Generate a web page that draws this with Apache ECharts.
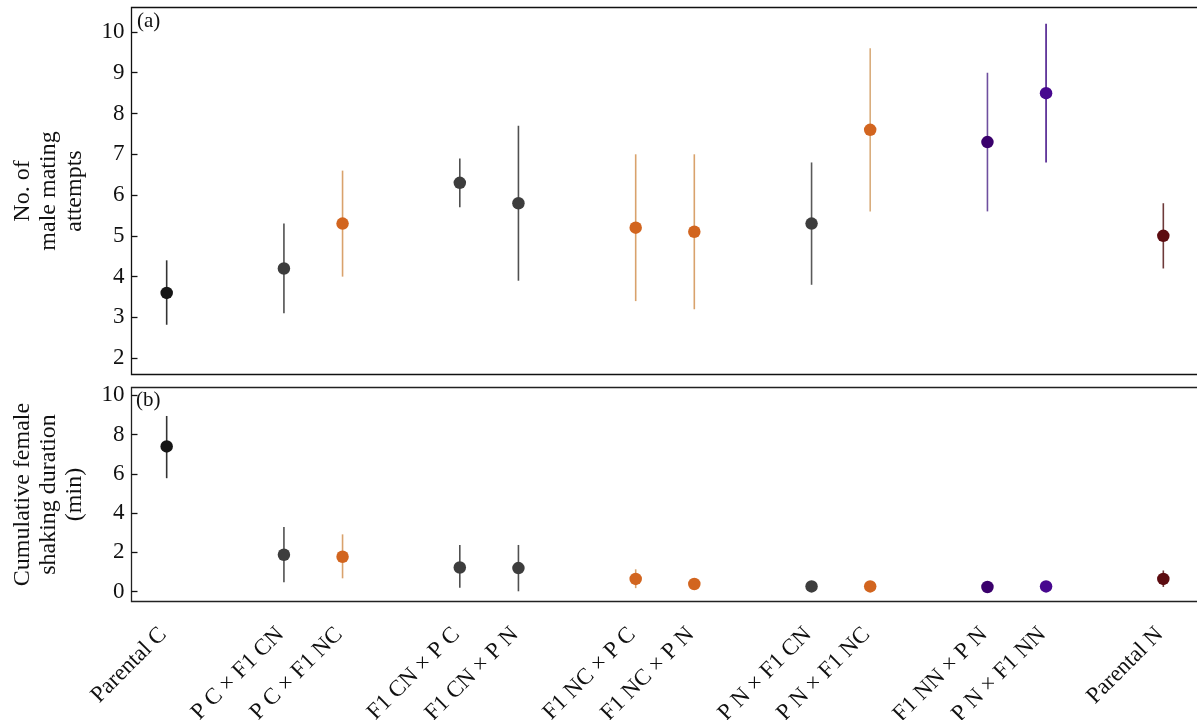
<!DOCTYPE html>
<html>
<head>
<meta charset="utf-8">
<script src="https://cdn.jsdelivr.net/npm/echarts@6/dist/echarts.min.js"></script>
<style>
html,body{margin:0;padding:0;background:#fff;}
#chart{width:1197px;height:720px;}
</style>
</head>
<body>
<div id="chart"></div>
<script>
// ---- data ----
const categories = ['Parental C','P C × F1 CN','P C × F1 NC','F1 CN × P C','F1 CN × P N','F1 NC × P C','F1 NC × P N','P N × F1 CN','P N × F1 NC','F1 NN × P N','P N × F1 NN','Parental N'];
const xSlots = [0, 2, 3, 5, 6, 8, 9, 11, 12, 14, 15, 17];
const attemptsMean = [3.6, 4.2, 5.3, 6.3, 5.8, 5.2, 5.1, 5.3, 7.6, 7.3, 8.5, 5.0];
const attemptsLow  = [2.82, 3.1, 4.0, 5.7, 3.9, 3.4, 3.2, 3.8, 5.6, 5.6, 6.8, 4.2];
const attemptsHigh = [4.4, 5.3, 6.6, 6.9, 7.7, 7.0, 7.0, 6.8, 9.6, 9.0, 10.2, 5.8];
const shakeMean = [7.4, 1.88, 1.78, 1.23, 1.2, 0.65, 0.39, 0.27, 0.27, 0.24, 0.27, 0.65];
const shakeLow  = [5.78, 0.48, 0.68, 0.2, 0.02, 0.18, 0.28, 0.2, 0.2, 0.16, 0.2, 0.24];
const shakeHigh = [8.95, 3.3, 2.92, 2.38, 2.38, 1.14, 0.5, 0.34, 0.34, 0.32, 0.34, 1.08];
const attemptTicks = [2, 3, 4, 5, 6, 7, 8, 9, 10];
const shakeTicks = [0, 2, 4, 6, 8, 10];

// ---- styles ----
const dotColors = ['#161616','#3d3d3d','#d2651f','#3d3d3d','#3d3d3d','#d2651f','#d2651f','#3d3d3d','#d2651f','#3a006c','#47088f','#5c0c10'];
const barColors = ['#333333','#505050','#d9a26c','#505050','#505050','#d9a26c','#d9a26c','#5a5a5a','#d9ad7c','#6e4f9f','#4a1a8c','#6e3a3a'];
const FONT = '"Liberation Serif", "Times New Roman", serif';

const chart = echarts.init(document.getElementById('chart'), null, {renderer: 'canvas'});

function barSeries(idx, low, high) {
  return {
    type: 'custom', xAxisIndex: idx, yAxisIndex: idx, z: 2,
    data: xSlots.map((x, i) => [x, low[i], high[i]]),
    encode: {x: 0, y: [1, 2]},
    renderItem: function (params, api) {
      const p1 = api.coord([api.value(0), api.value(1)]);
      const p2 = api.coord([api.value(0), api.value(2)]);
      return {type: 'line', shape: {x1: p1[0], y1: p1[1], x2: p2[0], y2: p2[1]},
              style: {stroke: barColors[params.dataIndex], lineWidth: 1.6}};
    }
  };
}
function dotSeries(idx, mean) {
  return {
    type: 'scatter', xAxisIndex: idx, yAxisIndex: idx, z: 3,
    symbol: 'circle', symbolSize: 12.5,
    data: xSlots.map((x, i) => [x, mean[i]]),
    itemStyle: {color: p => dotColors[p.dataIndex], opacity: 1},
    emphasis: {disabled: true}
  };
}
function xAxisDef(idx, showLabels) {
  return {
    type: 'value', gridIndex: idx, min: -0.6, max: 17.6,
    axisLine: {show: false, onZero: false},
    axisTick: {show: false},
    splitLine: {show: false},
    axisLabel: {
      show: showLabels, customValues: xSlots, rotate: 45, margin: 26, padding: [0, 5, 0, 0],
      fontFamily: FONT, fontSize: 23, color: '#111',
      formatter: v => { const i = xSlots.indexOf(Math.round(v)); return i >= 0 ? categories[i] : ''; }
    }
  };
}
function yAxisDef(idx, min, max, ticks, name) {
  return {
    type: 'value', gridIndex: idx, min: min, max: max,
    axisLine: {show: false, onZero: false},
    axisTick: {show: true, inside: true, length: 6, customValues: ticks, lineStyle: {color: '#111', width: 1.3}},
    splitLine: {show: false},
    axisLabel: {customValues: ticks, margin: 7, fontFamily: FONT, fontSize: 23, color: '#111'},
    name: name, nameLocation: 'middle', nameRotate: 90, nameGap: 44,
    nameTextStyle: {fontFamily: FONT, fontSize: 24, color: '#111', lineHeight: 26, align: 'center'}
  };
}

chart.setOption({
  animation: false,
  backgroundColor: '#fff',
  grid: [
    {left: 131.5, top: 7.5, width: 1067, height: 367, show: true, borderColor: '#111', borderWidth: 1.3, containLabel: false, outerBoundsMode: 'none'},
    {left: 131.5, top: 387.5, width: 1067, height: 214, show: true, borderColor: '#222', borderWidth: 1.3, containLabel: false, outerBoundsMode: 'none'}
  ],
  xAxis: [xAxisDef(0, false), xAxisDef(1, true)],
  yAxis: [
    yAxisDef(0, 1.6, 10.6, attemptTicks, 'No. of\nmale mating\nattempts'),
    yAxisDef(1, -0.5, 10.4, shakeTicks, 'Cumulative female\nshaking duration\n(min)')
  ],
  graphic: [
    {type: 'text', left: 137, top: 11, style: {text: '(a)', font: '21px ' + FONT, fill: '#111'}},
    {type: 'text', left: 136, top: 390, style: {text: '(b)', font: '21px ' + FONT, fill: '#111'}}
  ],
  series: [
    barSeries(0, attemptsLow, attemptsHigh), dotSeries(0, attemptsMean),
    barSeries(1, shakeLow, shakeHigh), dotSeries(1, shakeMean)
  ]
});
</script>
</body>
</html>
